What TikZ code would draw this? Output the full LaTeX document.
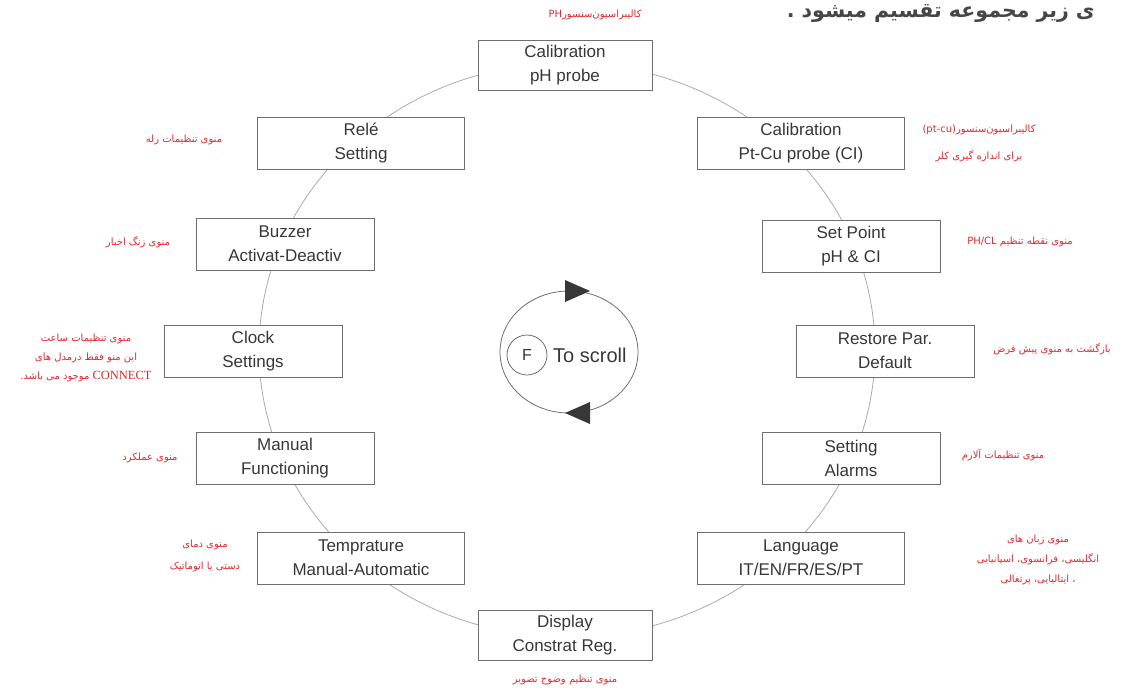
\documentclass[tikz,border=0pt]{standalone}
\usepackage{fontspec}
\setmainfont{Liberation Sans}
\newfontfamily\farsi[Script=Arabic]{DejaVu Sans}
\newfontfamily\latinserif{Liberation Serif}
\TeXXeTstate=1

\definecolor{boxline}{RGB}{110,110,110}
\definecolor{boxtext}{RGB}{55,55,55}
\definecolor{ringline}{RGB}{170,170,170}
\definecolor{notered}{RGB}{225,40,45}
\definecolor{headgray}{RGB}{70,70,70}

\tikzset{
	menubox/.style={draw=boxline, fill=white, line width=0.8pt, minimum width=178pt, minimum height=52pt, align=center, text=boxtext, font=\fontsize{17}{24}\selectfont},
	widebox/.style={menubox, minimum width=207pt},
	endbox/.style={menubox, minimum width=174pt, minimum height=50pt},
	note/.style={text=notered, align=center, font=\farsi\fontsize{10}{20}\selectfont},
}

\begin{document}
\begin{tikzpicture}[x=1pt,y=-1pt]
	\useasboundingbox (0,0) rectangle (1123,691);
	
	% big ring behind the menu boxes
	\coordinate (hub) at (567,350);
	\draw[ringline, line width=0.8pt] (hub) ellipse [x radius=308, y radius=287];
	
	% menu boxes, clockwise from the top
	\node[endbox] (ph) at (565,65) {Calibration\\pH probe};
	\node[widebox] (ptcu) at (801,143) {Calibration\\Pt-Cu probe (CI)};
	\node[menubox] (setp) at (851,246) {Set Point\\pH \& CI};
	\node[menubox] (restore) at (885,351) {Restore Par.\\Default};
	\node[menubox] (alarm) at (851,458) {Setting\\Alarms};
	\node[widebox] (lang) at (801,558) {Language\\IT/EN/FR/ES/PT};
	\node[endbox] (disp) at (565,635) {Display\\Constrat Reg.};
	\node[widebox] (temp) at (361,558) {Temprature\\Manual-Automatic};
	\node[menubox] (manual) at (285,458) {Manual\\Functioning};
	\node[menubox] (clock) at (253,351) {Clock\\Settings};
	\node[menubox] (buzz) at (285,244) {Buzzer\\Activat-Deactiv};
	\node[widebox] (rele) at (361,143) {Relé\\Setting};
	
	% scroll key in the middle
	\coordinate (spin) at (569,352);
	\draw[boxline, line width=0.8pt] (spin) ellipse [x radius=69, y radius=61];
	\fill[boxtext] (565,280) -- (590,291) -- (565,302) -- cycle;
	\fill[boxtext] (590,402) -- (565,413) -- (590,424) -- cycle;
	\node[circle, draw=boxline, fill=white, line width=0.8pt, minimum size=40pt, inner sep=0pt, text=boxtext, font=\fontsize{16}{16}\selectfont] (fkey) at (527,355) {F};
	\node[text=boxtext, font=\fontsize{20}{20}\selectfont, anchor=west, inner sep=0pt] (scroll) at (553,355) {To scroll};
	
	% red notes
	\node[note] (n-ph) at (595,15) {\beginR کالیبراسیون‌سنسور\beginL PH\endL\endR};
	\node[note, font=\farsi\fontsize{10}{27}\selectfont] (n-ptcu) at (979,143) {\beginR کالیبراسیون‌سنسور\beginL(pt-cu)\endL\endR\\\beginR برای اندازه گیری کلر\endR};
	\node[note] (n-setp) at (1020,242) {\beginR منوی نقطه تنظیم \beginL PH/CL\endL\endR};
	\node[note] (n-restore) at (1052,349) {\beginR بازگشت به منوی پیش فرض\endR};
	\node[note] (n-alarm) at (1003,455) {\beginR منوی تنظیمات آلارم\endR};
	\node[note] (n-lang) at (1038,560) {\beginR منوی زبان های\endR\\\beginR انگلیسی، فرانسوی، اسپانیایی\endR\\\beginR ، ایتالیایی، پرتغالی\endR};
	\node[note] (n-disp) at (565,680) {\beginR منوی تنظیم وضوح تصویر\endR};
	\node[note, font=\farsi\fontsize{10}{22}\selectfont] (n-temp) at (205,556) {\beginR منوی دمای\endR\\\beginR دستی یا اتوماتیک\endR};
	\node[note] (n-manual) at (150,458) {\beginR منوی عملکرد\endR};
	\node[note, font=\farsi\fontsize{10}{19}\selectfont] (n-clock) at (86,358) {\beginR منوی تنظیمات ساعت\endR\\\beginR این منو فقط درمدل های\endR\\\beginR\beginL{\latinserif\fontsize{12.5}{19}\selectfont CONNECT}\endL{} موجود می باشد.\endR};
	\node[note] (n-buzz) at (138,242) {\beginR منوی زنگ اخبار\endR};
	\node[note] (n-rele) at (184,140) {\beginR منوی تنظیمات رله\endR};
	
	% cut-off heading line
	\node[text=headgray, font=\farsi\fontsize{20.5}{20.5}\selectfont\bfseries, anchor=base east, inner sep=0pt] (head) at (1095,17) {\beginR ی زیر مجموعه تقسیم میشود .\endR};
\end{tikzpicture}
\end{document}
